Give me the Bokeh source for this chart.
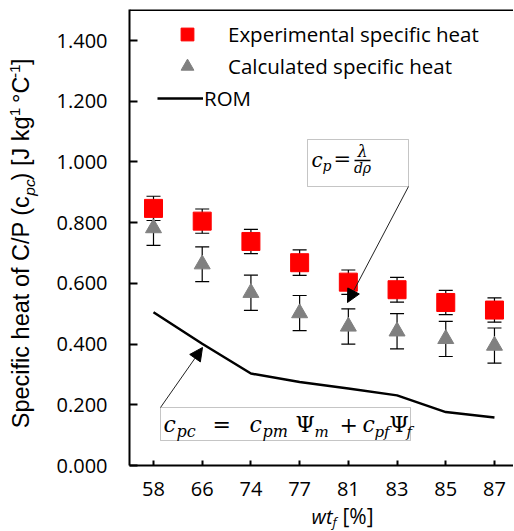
import math
from bokeh.plotting import figure
from bokeh.layouts import row, column
from bokeh.models import (ColumnDataSource, Range1d, FixedTicker, NumeralTickFormatter,
                          Whisker, TeeHead, Arrow, NormalHead, Label, Legend, LegendItem,
                          Span, BoxAnnotation)
from bokeh.embed import file_html
from bokeh.resources import INLINE

# ---------------- data ----------------
categories = ["58", "66", "74", "77", "81", "83", "85", "87"]
experimental = [0.847, 0.805, 0.738, 0.668, 0.604, 0.579, 0.537, 0.512]
experimental_err = [0.040, 0.040, 0.040, 0.042, 0.040, 0.041, 0.040, 0.040]
calculated = [0.782, 0.663, 0.569, 0.502, 0.458, 0.442, 0.417, 0.395]
calculated_err = [0.057, 0.057, 0.058, 0.058, 0.058, 0.058, 0.058, 0.058]
rom = [0.505, 0.401, 0.303, 0.275, 0.254, 0.231, 0.176, 0.158]
y_ticks = [0.0, 0.2, 0.4, 0.6, 0.8, 1.0, 1.2, 1.4]

# ---------------- layout (page pixels) ----------------
TOTAL_W, TOTAL_H = 513, 530
LEFT_W = 40            # strip holding the y-axis title
MAIN_H = 502           # main plot height (frame + x tick labels)
FRAME_L, FRAME_R, FRAME_T, FRAME_B = 129, TOTAL_W, 9, 465
X0, S = 153.0, 48.71   # pixel of first category, pixels per category
Y0, K = 465.0, 303.57  # pixel of y=0, pixels per unit
BASE_SHIFT = 0.4       # measured offset of the rendered baseline, in em


def xd(px):
    return (px - X0) / S


def yd(py):
    return (Y0 - py) / K


idx = list(range(len(categories)))
src = ColumnDataSource(dict(
    x=idx,
    exp=experimental,
    exp_lo=[v - e for v, e in zip(experimental, experimental_err)],
    exp_hi=[v + e for v, e in zip(experimental, experimental_err)],
    calc=calculated,
    calc_lo=[v - e for v, e in zip(calculated, calculated_err)],
    calc_hi=[v + e for v, e in zip(calculated, calculated_err)],
    rom=rom,
))

p = figure(frame_width=FRAME_R - FRAME_L, frame_height=FRAME_B - FRAME_T,
           output_backend="svg", toolbar_location=None, title=None,
           x_range=Range1d(xd(FRAME_L), xd(FRAME_R)), y_range=Range1d(0, yd(FRAME_T)),
           min_border_left=FRAME_L - LEFT_W, min_border_right=0, min_border_top=FRAME_T,
           min_border_bottom=MAIN_H - FRAME_B)
p.outline_line_color = None
p.xgrid.grid_line_color = None
p.ygrid.grid_line_color = None
p.background_fill_color = "white"
p.border_fill_color = "white"

# axes
p.yaxis.ticker = FixedTicker(ticks=y_ticks)
p.yaxis.formatter = NumeralTickFormatter(format="0.000")
p.xaxis.ticker = FixedTicker(ticks=idx)
p.xaxis.major_label_overrides = {i: c for i, c in zip(idx, categories)}
for ax in (p.xaxis, p.yaxis):
    ax.axis_line_width = 2
    ax.axis_line_color = "black"
    ax.major_tick_line_width = 2
    ax.major_tick_line_color = "black"
    ax.major_tick_out = 0
    ax.minor_tick_line_color = None
    ax.major_label_text_font = "Open Sans"
    ax.major_label_text_font_size = "20px"
    ax.major_label_text_color = "black"
p.yaxis.major_tick_in = 8
p.yaxis.major_label_standoff = 22
p.xaxis.major_tick_in = 5
p.xaxis.major_label_standoff = 16

p.add_layout(Span(location=yd(FRAME_T), dimension="width", line_color="black", line_width=3))

# error bars (drawn under the markers)
for lo, hi in (("exp_lo", "exp_hi"), ("calc_lo", "calc_hi")):
    w = Whisker(source=src, base="x", lower=lo, upper=hi, dimension="height",
                line_color="black", line_width=1.2,
                lower_head=TeeHead(size=14, line_color="black", line_width=1.2),
                upper_head=TeeHead(size=14, line_color="black", line_width=1.2),
                level="underlay")
    p.add_layout(w)

rom_r = p.line("x", "rom", source=src, line_color="black", line_width=2.5)
sq = p.scatter("x", "exp", source=src, marker="square", size=18,
               fill_color="#ff0000", line_color="#ff0000")
tri = p.scatter("x", "calc", source=src, marker="triangle", size=16,
                fill_color="#808080", line_color="#808080")

leg_common = dict(glyph_height=32, label_height=32, spacing=0, padding=0, margin=0,
                  border_line_color=None, background_fill_alpha=0,
                  label_text_font="Open Sans", label_text_font_size="20.5px",
                  label_text_color="black")
leg1 = Legend(items=[LegendItem(label="Experimental specific heat", renderers=[sq]),
                     LegendItem(label="Calculated specific heat", renderers=[tri])],
              location=(28, 383), glyph_width=60, label_standoff=11, **leg_common)
leg2 = Legend(items=[LegendItem(label="ROM", renderers=[rom_r])],
              location=(28, 351), glyph_width=46, label_standoff=1, **leg_common)
p.add_layout(leg1)
p.add_layout(leg2)


def lab(fig, x, y, text, size, font="DejaVu Serif", style="italic", align="left", angle=0.0):
    fig.add_layout(Label(x=x, y=y, text=text, text_font=font,
                         text_font_size=f"{size}px", text_font_style=style,
                         text_align=align, text_baseline="alphabetic",
                         text_color="black", angle=angle))


def mlab(px, py, text, size, **kw):
    # (px, py): wanted page position of the text baseline start
    lab(p, xd(px), yd(py - BASE_SHIFT * size), text, size, **kw)


# formula boxes
p.add_layout(BoxAnnotation(left=xd(307), right=xd(408), top=yd(139), bottom=yd(186),
                           fill_color="white", fill_alpha=1, line_color="#404040",
                           line_width=1, level="annotation"))
p.add_layout(BoxAnnotation(left=xd(160), right=xd(410), top=yd(407), bottom=yd(440),
                           fill_color="white", fill_alpha=1, line_color="#404040",
                           line_width=1, level="annotation"))

# c_p = lambda / (d rho)
mlab(311, 167, "c", 20)
mlab(322, 171, "p", 14)
mlab(333, 167, "=", 21, style="normal")
p.add_layout(BoxAnnotation(left=xd(354), right=xd(370), top=yd(159.3), bottom=yd(160.7),
                           fill_color="black", fill_alpha=1, line_color=None, level="annotation"))
mlab(362, 157, "λ", 16, align="center")
mlab(362, 173, "dρ", 14, align="center")

# c_pc = c_pm Psi_m + c_pf Psi_f
mlab(163, 433, "c", 22)
mlab(176, 437, "pc", 16)
mlab(212, 433, "=", 22, style="normal")
mlab(249, 433, "c", 22)
mlab(262, 437, "pm", 16)
mlab(295, 433, "Ψ", 22, style="normal")
mlab(314, 437, "m", 15)
mlab(339, 433, "+", 22, style="normal")
mlab(362, 433, "c", 22)
mlab(374, 437, "pf", 15)
mlab(389, 433, "Ψ", 22, style="normal")
mlab(406, 437, "f", 15)

# arrows
p.add_layout(Arrow(x_start=xd(408), y_start=yd(186), x_end=xd(347), y_end=yd(302),
                   line_color="#222222", line_width=1,
                   end=NormalHead(size=13, fill_color="black", line_color="black")))
p.add_layout(Arrow(x_start=xd(160), y_start=yd(407), x_end=xd(202), y_end=yd(347),
                   line_color="#222222", line_width=1,
                   end=NormalHead(size=13, fill_color="black", line_color="black")))


def strip(width, height, x_range, y_range):
    f = figure(width=width, height=height, output_backend="svg", toolbar_location=None,
               title=None, x_range=x_range, y_range=y_range,
               x_axis_type=None, y_axis_type=None,
               min_border=0, min_border_left=0, min_border_right=0,
               min_border_top=0, min_border_bottom=0)
    f.outline_line_color = None
    f.background_fill_color = "white"
    f.border_fill_color = "white"
    return f


# ---------------- left strip: y-axis title (data units = page pixels) ----------------
left = strip(LEFT_W, MAIN_H, Range1d(0, LEFT_W), Range1d(MAIN_H, 0))

ARIAL = {" ": 278, "(": 333, ")": 333, "[": 278, "]": 278, "/": 278, "-": 333,
         "°": 400, "1": 556, "S": 667, "C": 722, "P": 667, "J": 500, "a": 556,
         "c": 500, "e": 556, "f": 278, "g": 556, "h": 556, "i": 222, "k": 500,
         "o": 556, "p": 556, "t": 278}


def tw(s, size):
    return sum(ARIAL[ch] for ch in s) / 1000.0 * size


BIG, SMALL = 23.5, 15.5
BASE_X = 30.0      # page x of the rotated baseline
JOIN = 205.0       # page y where "(c" ends and the subscript starts


def ylab(pos, text, size, style, shift, align):
    lab(left, BASE_X - shift - BASE_SHIFT * size, pos, text, size, font="Liberation Sans",
        style=style, align=align, angle=math.pi / 2)


# first part ends at the join (right-aligned in the rotated frame)
ylab(JOIN, "Specific heat of C/P (c", BIG, "normal", 0, "right")
# following parts chained upward from the join
tail = [("pc", SMALL, "italic", -5, 0.5),
        (") [J kg", BIG, "normal", 0, 1.0),
        ("-1", SMALL, "normal", 9, tw(" ", BIG)),
        ("°C", BIG, "normal", 0, 1.0),
        ("-1", SMALL, "normal", 9, 0.5),
        ("]", BIG, "normal", 0, 0)]
pos = JOIN
for text, size, style, shift, gap in tail:
    ylab(pos, text, size, style, shift, "left")
    pos -= tw(text, size) + gap

# ---------------- bottom strip: x-axis title (data units = page pixels) ----------------
bottom = strip(TOTAL_W, TOTAL_H - MAIN_H, Range1d(0, TOTAL_W), Range1d(TOTAL_H, MAIN_H))
lab(bottom, 332, 524 - BASE_SHIFT * 20, "wt", 20, font="Open Sans", align="right")
lab(bottom, 332, 527 - BASE_SHIFT * 13, "f", 13, font="Open Sans")
lab(bottom, 342, 524 - BASE_SHIFT * 21, "[%]", 21, font="Open Sans", style="normal")

layout = column(row(left, p, spacing=0), bottom, spacing=0)
open("out.html", "w").write(file_html(layout, INLINE))
